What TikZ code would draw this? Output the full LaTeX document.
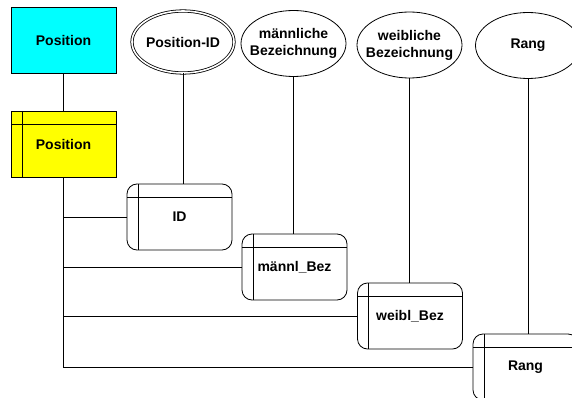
\documentclass[tikz,border=0pt]{standalone}
\usepackage{fontspec}
\setmainfont{Liberation Sans}
\usetikzlibrary{shapes.geometric}
\definecolor{entitycyan}{rgb}{0,1,1}
\definecolor{tableyellow}{rgb}{1,1,0}

\begin{document}
\begin{tikzpicture}[x=1pt,y=-1pt,line width=0.8pt,
    font=\bfseries\fontsize{14}{17}\selectfont,
    entity/.style={rectangle,draw,fill=entitycyan,minimum width=105pt,minimum height=66pt},
    table/.style={rectangle,draw,fill=tableyellow,minimum width=105pt,minimum height=66pt,
      path picture={
        \draw ([xshift=11pt]path picture bounding box.north west) -- ([xshift=11pt]path picture bounding box.south west);
        \draw ([yshift=-13pt]path picture bounding box.north west) -- ([yshift=-13pt]path picture bounding box.north east);}},
    column/.style={rectangle,rounded corners=10pt,draw,minimum width=105pt,minimum height=66pt,
      path picture={
        \draw ([xshift=11pt]path picture bounding box.north west) -- ([xshift=11pt]path picture bounding box.south west);
        \draw ([yshift=-13pt]path picture bounding box.north west) -- ([yshift=-13pt]path picture bounding box.north east);}},
    attr/.style={ellipse,draw,align=center,inner xsep=-7pt,inner ysep=0pt,minimum width=105pt,minimum height=66pt},
    keyattr/.style={attr,double,double distance=1.6pt,minimum width=102pt,minimum height=62pt}]
  \useasboundingbox (0,0) rectangle (572,398);
  \clip (0,0) rectangle (572,398);

  % entity and its table
  \node[entity] (pos) at (63.5,40) {Position};
  \node[table] (postab) at (63.5,144) {Position};

  % attributes
  \node[keyattr] (pid) at (183,42) {Position-ID};
  \node[attr] (mbez) at (293.5,43.5) {männliche\\Bezeichnung};
  \node[attr] (wbez) at (409.5,45) {weibliche\\Bezeichnung};
  \node[attr] (rang) at (528,45.5) {Rang};

  % columns
  \node[column] (id) at (179.5,217) {ID};
  \node[column] (mb) at (294.5,267) {männl\_Bez};
  \node[column] (wb) at (410,316) {weibl\_Bez};
  \node[column] (rg) at (525.5,367) {Rang};

  \draw (pos) -- (postab);
  \draw (postab.south) |- (id.west);
  \draw (postab.south) |- (mb.west);
  \draw (postab.south) |- (wb.west);
  \draw (postab.south) |- (rg.west);

  \draw (pid.south) -- (pid.south |- id.north);
  \draw (mbez.south) -- (mbez.south |- mb.north);
  \draw (wbez.south) -- (wbez.south |- wb.north);
  \draw (rang.south) -- (rang.south |- rg.north);
\end{tikzpicture}
\end{document}
